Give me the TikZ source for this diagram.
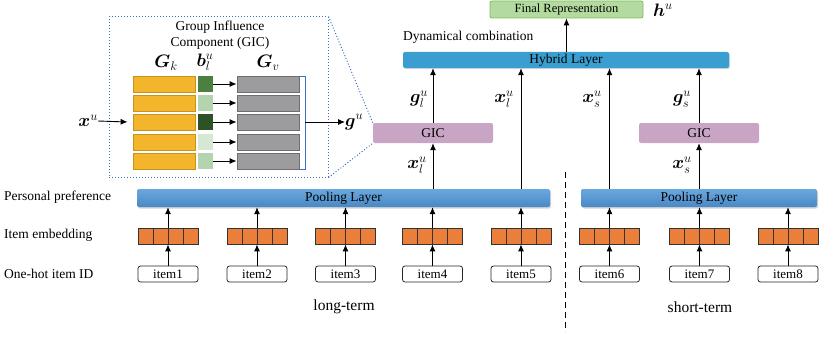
\RequirePackage{fix-cm}
\documentclass[tikz,border=0pt]{standalone}
\usepackage{fontspec}
\setmainfont{Liberation Serif}
\usepackage{bm}
\usetikzlibrary{arrows.meta,shadows}
\definecolor{ybar}{HTML}{F3B52C}
\definecolor{ybard}{HTML}{C9921A}
\definecolor{gbar}{HTML}{9C9C9E}
\definecolor{gbard}{HTML}{6E6E70}
\definecolor{gA}{HTML}{4C8040}
\definecolor{gB}{HTML}{B3D4AE}
\definecolor{gC}{HTML}{2E5227}
\definecolor{gD}{HTML}{D6E8D2}
\definecolor{orng}{HTML}{E97F3A}
\definecolor{poolT}{HTML}{6AA8DE}
\definecolor{poolB}{HTML}{4A88C6}
\definecolor{hyb}{HTML}{3A9FD0}
\definecolor{gicc}{HTML}{C8A5C5}
\definecolor{finf}{HTML}{B3DBA0}
\definecolor{find}{HTML}{7DBA5C}
\definecolor{dotb}{HTML}{3F6FC0}
\tikzset{
  txt/.style={font=\fontsize{13.5}{16}\selectfont, inner sep=0pt},
  mlab/.style={font=\fontsize{18}{20}\selectfont, inner sep=0pt},
  arr/.style={-{Latex[length=7pt,width=6pt]}, line width=0.9pt},
  poolbox/.style={rounded corners=2pt, top color=poolT, bottom color=poolB, minimum height=18pt, inner sep=0pt, font=\fontsize{13.5}{16}\selectfont, drop shadow={opacity=0.35,shadow xshift=1pt,shadow yshift=-1.5pt}},
  gicbox/.style={rounded corners=2pt, fill=gicc, minimum width=120pt, minimum height=20pt, inner sep=0pt, font=\fontsize{13.5}{16}\selectfont},
  embbox/.style={draw=black!80, fill=orng, line width=0.8pt, minimum width=60pt, minimum height=16pt, inner sep=0pt},
  itembox/.style={draw=black!85, rounded corners=2.5pt, line width=0.8pt, minimum width=60pt, minimum height=16pt, inner sep=0pt, font=\fontsize{13}{15}\selectfont},
  ybox/.style={draw=ybard, fill=ybar, line width=0.8pt, minimum width=62pt, minimum height=16pt, inner sep=0pt},
  grbox/.style={draw=gbard, fill=gbar, line width=0.8pt, minimum width=62pt, minimum height=16pt, inner sep=0pt},
  sq/.style={minimum width=15pt, minimum height=16pt, inner sep=0pt},
}
\begin{document}
\begin{tikzpicture}[x=1pt,y=-1pt]
\useasboundingbox (0,0) rectangle (821,337);

% final + hybrid
\node[draw=find, fill=finf, rounded corners=2pt, line width=0.8pt, minimum width=153pt, minimum height=17pt, inner sep=0pt, font=\fontsize{12.5}{14}\selectfont] (fin) at (566.5,9.5) {Final Representation};
\node[mlab, anchor=west] (hu) at (653,10) {$\bm{h}^u$};
\node[txt, anchor=west] (dyn) at (403,37) {Dynamical combination};
\node[rounded corners=2pt, fill=hyb, minimum width=326pt, minimum height=16pt, inner sep=0pt, font=\fontsize{13.5}{16}\selectfont, drop shadow={opacity=0.3,shadow xshift=1pt,shadow yshift=-1pt}] (hyb) at (566,60) {Hybrid Layer};
\draw[arr] (hyb.north -| fin.south) -- (fin.south);

% GIC
\node[gicbox] (gicL) at (433,133) {GIC};
\node[gicbox] (gicR) at (699,133) {GIC};

% pooling layers
\node[poolbox, minimum width=413pt] (poolL) at (343.5,198) {Pooling Layer};
\node[poolbox, minimum width=236pt] (poolR) at (699,198) {Pooling Layer};

% left labels
\node[txt, anchor=west] (pp) at (4,197) {Personal preference};
\node[txt, anchor=west] (ie) at (4,235) {Item embedding};
\node[txt, anchor=west] (oh) at (4,274) {One-hot item ID};

% items & embeddings
\foreach \i/\x in {1/168,2/257,3/345.5,4/432.5,5/521,6/609.5,7/699.5,8/788}{
  \node[embbox] (e\i) at (\x,236) {};
  \foreach \k in {-15,0,15}{\draw[line width=0.8pt, black!80] ([xshift=\k pt]e\i.north) -- ([xshift=\k pt]e\i.south);}
  \node[itembox] (it\i) at (\x,274) {item\i};
  \draw[arr] (it\i.north) -- (e\i.south);
}
\foreach \i in {1,...,5}{\draw[arr] (e\i.north) -- (e\i.north |- poolL.south);}
\foreach \i in {6,7,8}{\draw[arr] (e\i.north) -- (e\i.north |- poolR.south);}

% pool -> GIC / hybrid
\draw[arr] (gicL.south |- poolL.north) -- (gicL.south);
\draw[arr] (gicR.south |- poolR.north) -- (gicR.south);
\draw[arr] (gicL.north) -- (gicL.north |- hyb.south);
\draw[arr] (gicR.north) -- (gicR.north |- hyb.south);
\draw[arr] (e5.north |- poolL.north) -- (e5.north |- hyb.south);
\draw[arr] (e6.north |- poolR.north) -- (e6.north |- hyb.south);

\node[mlab] (lxl1) at (417,165) {$\bm{x}_l^u$};
\node[mlab] (lxs1) at (682,165) {$\bm{x}_s^u$};
\node[mlab] (lgl) at (419,99) {$\bm{g}_l^u$};
\node[mlab] (lxl2) at (504,99) {$\bm{x}_l^u$};
\node[mlab] (lxs2) at (592,99) {$\bm{x}_s^u$};
\node[mlab] (lgs) at (682,99) {$\bm{g}_s^u$};

% divider
\coordinate (dv1) at (565,172);
\coordinate (dv2) at (565,332);
\draw[line width=0.9pt, dash pattern=on 6pt off 4pt] (dv1) -- (dv2);

\node[font=\fontsize{15.5}{18}\selectfont, inner sep=0pt] (lt) at (344,307) {long-term};
\node[font=\fontsize{15.5}{18}\selectfont, inner sep=0pt] (st) at (700,307) {short-term};

% inset
\node[draw=dotb, dotted, line width=1pt, minimum width=219pt, minimum height=160pt, inner sep=0pt] (inset) at (218.5,97) {};
\draw[dotb, dotted, line width=1pt] (inset.north east) -- (gicL.north west);
\draw[dotb, dotted, line width=1pt] (inset.south east) -- (gicL.south west);
\node[font=\fontsize{13.5}{16}\selectfont, align=center, inner sep=0pt] (ttl) at (220,35) {Group Influence\\Component (GIC)};
\node[mlab] (lgk) at (166,63) {$\bm{G}_k$};
\node[mlab] (lbl) at (205,62) {$\bm{b}_l^u$};
\node[mlab] (lgv) at (268,63) {$\bm{G}_v$};
\foreach \r/\y/\c in {1/84/gA,2/103/gB,3/122/gC,4/142/gD,5/161/gB}{
  \node[ybox] (y\r) at (164,\y) {};
  \node[sq, fill=\c] (s\r) at (205.5,\y) {};
  \node[grbox] (v\r) at (268,\y) {};
  \draw[arr] (s\r.east) -- (v\r.west);
}
\coordinate (br1) at (300,76);
\coordinate (br2) at (305,76);
\coordinate (br3) at (305,169);
\coordinate (br4) at (300,169);
\coordinate (brm) at (305,122);
\draw[dotb, line width=0.8pt] (br1) -- (br2) -- (br3) -- (br4);
\node[mlab, anchor=west] (gu) at (345,122) {$\bm{g}^u$};
\draw[arr] (brm) -- (gu.west);
\node[mlab, anchor=east] (xu) at (98,121) {$\bm{x}^u$};
\draw[arr] (xu.east) -- ([xshift=-5pt]y3.west);
\end{tikzpicture}
\end{document}
